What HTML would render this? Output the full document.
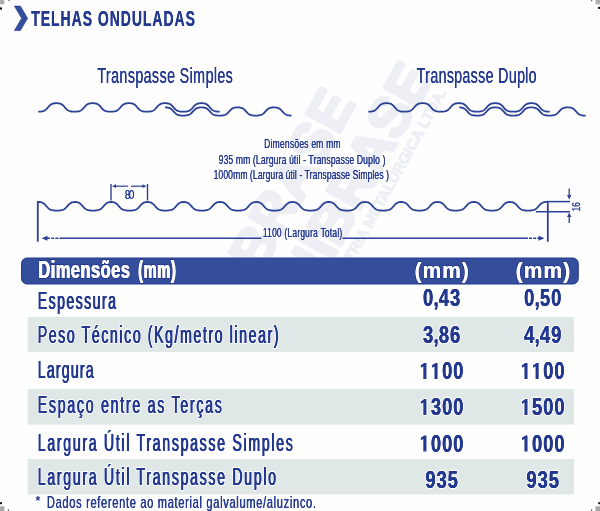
<!DOCTYPE html>
<html><head><meta charset="utf-8"><title>Telhas Onduladas</title>
<style>
html,body{margin:0;padding:0;background:#fff;}
body{width:600px;height:511px;overflow:hidden;}
svg{display:block;font-family:"Liberation Sans",sans-serif;}
</style></head><body>
<svg width="600" height="511" viewBox="0 0 600 511">
<rect width="600" height="511" fill="#fefefe"/>
<g style="will-change:transform">
<clipPath id="wc"><rect x="0" y="0" width="600" height="257"/></clipPath>
<g fill="#edeff5" stroke="#edeff5" stroke-width="3" stroke-linejoin="round" font-weight="bold" clip-path="url(#wc)" text-anchor="end"><text transform="translate(434,77) rotate(-61)" font-size="56">UNIBRASE</text><text transform="translate(356,103) rotate(-61)" font-size="56">UNIBRASE</text><text transform="translate(447,92) rotate(-61)" font-size="15" stroke-width="0.9">INDÚSTRIA METALÚRGICA LTDA.</text></g>
<polygon points="14.4,6.1 20.4,6.1 27.6,18.3 20.4,30.6 14.4,30.6 21.6,18.3" fill="#354e9b" stroke="#1f3388" stroke-width="0.6"/>
<g fill="#23388f"><text transform="translate(31.20,25.6) scale(0.66,1)" font-size="21.2" font-weight="bold" textLength="248.02" lengthAdjust="spacing">TELHAS ONDULADAS</text><text transform="translate(31.30,25.6) scale(0.66,1)" font-size="21.2" font-weight="bold" textLength="248.02" lengthAdjust="spacing">TELHAS ONDULADAS</text></g>
<g fill="#23388f"><text transform="translate(97.30,83.2) scale(0.67,1)" font-size="21.3" font-weight="normal" textLength="202.16" lengthAdjust="spacing">Transpasse Simples</text><text transform="translate(97.55,83.2) scale(0.67,1)" font-size="21.3" font-weight="normal" textLength="202.16" lengthAdjust="spacing">Transpasse Simples</text></g>
<g fill="#23388f"><text transform="translate(416.60,83.2) scale(0.67,1)" font-size="21.3" font-weight="normal" textLength="179.03" lengthAdjust="spacing">Transpasse Duplo</text><text transform="translate(416.85,83.2) scale(0.67,1)" font-size="21.3" font-weight="normal" textLength="179.03" lengthAdjust="spacing">Transpasse Duplo</text></g>
<path d="M38.30,111.70 L38.80,111.70 L39.30,111.68 L39.80,111.66 L40.30,111.62 L40.80,111.58 L41.30,111.52 L41.80,111.44 L42.30,111.34 L42.80,111.22 L43.30,111.07 L43.80,110.89 L44.30,110.66 L44.80,110.38 L45.30,110.05 L45.80,109.66 L46.30,109.22 L46.80,108.71 L47.30,108.16 L47.80,107.58 L48.30,106.99 L48.80,106.41 L49.30,105.87 L49.80,105.37 L50.30,104.94 L50.80,104.56 L51.30,104.25 L51.80,104.00 L52.30,103.79 L52.80,103.63 L53.30,103.50 L53.80,103.40 L54.30,103.33 L54.80,103.27 L55.30,103.23 L55.80,103.21 L56.30,103.20 L56.80,103.20 L57.30,103.22 L57.80,103.25 L58.30,103.30 L58.80,103.37 L59.30,103.46 L59.80,103.57 L60.30,103.72 L60.80,103.91 L61.30,104.14 L61.80,104.43 L62.30,104.78 L62.80,105.19 L63.30,105.66 L63.80,106.19 L64.30,106.76 L64.80,107.34 L65.30,107.93 L65.80,108.50 L66.30,109.02 L66.80,109.49 L67.30,109.91 L67.80,110.26 L68.30,110.56 L68.80,110.80 L69.30,111.00 L69.80,111.17 L70.30,111.30 L70.80,111.41 L71.30,111.49 L71.80,111.56 L72.30,111.61 L72.80,111.65 L73.30,111.67 L73.80,111.69 L74.30,111.70 L74.80,111.70 L75.30,111.69 L75.80,111.67 L76.30,111.64 L76.80,111.60 L77.30,111.55 L77.80,111.48 L78.30,111.40 L78.80,111.29 L79.30,111.15 L79.80,110.98 L80.30,110.78 L80.80,110.53 L81.30,110.23 L81.80,109.87 L82.30,109.45 L82.80,108.97 L83.30,108.44 L83.80,107.87 L84.30,107.28 L84.80,106.70 L85.30,106.13 L85.80,105.61 L86.30,105.15 L86.80,104.74 L87.30,104.40 L87.80,104.12 L88.30,103.89 L88.80,103.70 L89.30,103.56 L89.80,103.45 L90.30,103.36 L90.80,103.30 L91.30,103.25 L91.80,103.22 L92.30,103.20 L92.80,103.20 L93.30,103.21 L93.80,103.24 L94.30,103.27 L94.80,103.33 L95.30,103.41 L95.80,103.51 L96.30,103.64 L96.80,103.81 L97.30,104.02 L97.80,104.28 L98.30,104.60 L98.80,104.98 L99.30,105.42 L99.80,105.92 L100.30,106.47 L100.80,107.05 L101.30,107.64 L101.80,108.22 L102.30,108.76 L102.80,109.26 L103.30,109.71 L103.80,110.09 L104.30,110.41 L104.80,110.68 L105.30,110.91 L105.80,111.09 L106.30,111.24 L106.80,111.35 L107.30,111.45 L107.80,111.52 L108.30,111.58 L108.80,111.63 L109.30,111.66 L109.80,111.68 L110.30,111.70 L110.80,111.70 L111.30,111.70 L111.80,111.68 L112.30,111.66 L112.80,111.62 L113.30,111.58 L113.80,111.52 L114.30,111.44 L114.80,111.34 L115.30,111.22 L115.80,111.07 L116.30,110.89 L116.80,110.66 L117.30,110.38 L117.80,110.05 L118.30,109.66 L118.80,109.22 L119.30,108.71 L119.80,108.16 L120.30,107.58 L120.80,106.99 L121.30,106.41 L121.80,105.87 L122.30,105.37 L122.80,104.94 L123.30,104.56 L123.80,104.25 L124.30,104.00 L124.80,103.79 L125.30,103.63 L125.80,103.50 L126.30,103.40 L126.80,103.33 L127.30,103.27 L127.80,103.23 L128.30,103.21 L128.80,103.20 L129.30,103.20 L129.80,103.22 L130.30,103.25 L130.80,103.30 L131.30,103.37 L131.80,103.46 L132.30,103.57 L132.80,103.72 L133.30,103.91 L133.80,104.14 L134.30,104.43 L134.80,104.78 L135.30,105.19 L135.80,105.66 L136.30,106.19 L136.80,106.76 L137.30,107.34 L137.80,107.93 L138.30,108.50 L138.80,109.02 L139.30,109.49 L139.80,109.91 L140.30,110.26 L140.80,110.56 L141.30,110.80 L141.80,111.00 L142.30,111.17 L142.80,111.30 L143.30,111.41 L143.80,111.49 L144.30,111.56 L144.80,111.61 L145.30,111.65 L145.80,111.67 L146.30,111.69 L146.80,111.70 L147.30,111.70 L147.80,111.69 L148.30,111.67 L148.80,111.64 L149.30,111.60 L149.80,111.55 L150.30,111.48 L150.80,111.40 L151.30,111.29 L151.80,111.15 L152.30,110.98 L152.80,110.78 L153.30,110.53 L153.80,110.23 L154.30,109.87 L154.80,109.45 L155.30,108.97 L155.80,108.44 L156.30,107.87 L156.80,107.28 L157.30,106.70 L157.80,106.13 L158.30,105.61 L158.80,105.15 L159.30,104.74 L159.80,104.40 L160.30,104.12 L160.80,103.89 L161.30,103.70 L161.80,103.56 L162.30,103.45 L162.80,103.36 L163.30,103.30 L163.80,103.25 L164.30,103.22 L164.80,103.20 L165.30,103.20 L165.80,103.21 L166.30,103.24 L166.80,103.27 L167.30,103.33 L167.80,103.41 L168.30,103.51 L168.80,103.64 L169.30,103.81 L169.80,104.02 L170.30,104.28 L170.80,104.60 L171.30,104.98 L171.80,105.42 L172.30,105.92 L172.80,106.47 L173.30,107.05 L173.80,107.64 L174.30,108.22 L174.80,108.76 L175.30,109.26 L175.80,109.71 L176.30,110.09 L176.80,110.41 L177.30,110.68 L177.80,110.91 L178.30,111.09 L178.80,111.24 L179.30,111.35 L179.80,111.45 L180.30,111.52 L180.80,111.58 L181.30,111.63 L181.80,111.66 L182.30,111.68 L182.80,111.70 L183.30,111.70 L183.80,111.70 L184.30,111.68 L184.80,111.66 L185.30,111.62 L185.80,111.58 L186.30,111.52 L186.80,111.44 L187.30,111.34 L187.80,111.22 L188.30,111.07 L188.80,110.89 L189.30,110.66 L189.80,110.38 L190.30,110.05 L190.80,109.66 L191.30,109.22 L191.80,108.71 L192.30,108.16 L192.80,107.58 L193.30,106.99 L193.80,106.41 L194.30,105.87 L194.80,105.37 L195.30,104.94 L195.80,104.56 L196.30,104.25 L196.80,104.00 L197.30,103.79 L197.80,103.63 L198.30,103.50 L198.80,103.40 L199.30,103.33 L199.80,103.27 L200.30,103.23 L200.80,103.21 L201.30,103.20 L201.80,103.20 L202.30,103.22 L202.80,103.25 L203.30,103.30 L203.80,103.37 L204.30,103.46 L204.80,103.57 L205.30,103.72 L205.80,103.91 L206.30,104.14 L206.80,104.43 L207.30,104.78 L207.80,105.19 L208.30,105.66 L208.80,106.19 L209.30,106.76 L209.80,107.34 L210.30,107.93 L210.80,108.50 L211.30,109.02 L211.80,109.49 L212.30,109.91 L212.80,110.26 L213.30,110.56 L213.80,110.80 L214.30,111.00 L214.80,111.17 L215.30,111.30 L215.80,111.41 L216.30,111.49 L216.80,111.56 L217.30,111.61 L217.80,111.65 L218.30,111.67 L218.80,111.69 L219.30,111.70 L219.70,111.70" fill="none" stroke="#2b4195" stroke-width="1.8"/>
<path d="M368.30,111.70 L368.80,111.70 L369.30,111.68 L369.80,111.66 L370.30,111.62 L370.80,111.58 L371.30,111.52 L371.80,111.44 L372.30,111.34 L372.80,111.22 L373.30,111.07 L373.80,110.89 L374.30,110.66 L374.80,110.38 L375.30,110.05 L375.80,109.66 L376.30,109.22 L376.80,108.71 L377.30,108.16 L377.80,107.58 L378.30,106.99 L378.80,106.41 L379.30,105.87 L379.80,105.37 L380.30,104.94 L380.80,104.56 L381.30,104.25 L381.80,104.00 L382.30,103.79 L382.80,103.63 L383.30,103.50 L383.80,103.40 L384.30,103.33 L384.80,103.27 L385.30,103.23 L385.80,103.21 L386.30,103.20 L386.80,103.20 L387.30,103.22 L387.80,103.25 L388.30,103.30 L388.80,103.37 L389.30,103.46 L389.80,103.57 L390.30,103.72 L390.80,103.91 L391.30,104.14 L391.80,104.43 L392.30,104.78 L392.80,105.19 L393.30,105.66 L393.80,106.19 L394.30,106.76 L394.80,107.34 L395.30,107.93 L395.80,108.50 L396.30,109.02 L396.80,109.49 L397.30,109.91 L397.80,110.26 L398.30,110.56 L398.80,110.80 L399.30,111.00 L399.80,111.17 L400.30,111.30 L400.80,111.41 L401.30,111.49 L401.80,111.56 L402.30,111.61 L402.80,111.65 L403.30,111.67 L403.80,111.69 L404.30,111.70 L404.80,111.70 L405.30,111.69 L405.80,111.67 L406.30,111.64 L406.80,111.60 L407.30,111.55 L407.80,111.48 L408.30,111.40 L408.80,111.29 L409.30,111.15 L409.80,110.98 L410.30,110.78 L410.80,110.53 L411.30,110.23 L411.80,109.87 L412.30,109.45 L412.80,108.97 L413.30,108.44 L413.80,107.87 L414.30,107.28 L414.80,106.70 L415.30,106.13 L415.80,105.61 L416.30,105.15 L416.80,104.74 L417.30,104.40 L417.80,104.12 L418.30,103.89 L418.80,103.70 L419.30,103.56 L419.80,103.45 L420.30,103.36 L420.80,103.30 L421.30,103.25 L421.80,103.22 L422.30,103.20 L422.80,103.20 L423.30,103.21 L423.80,103.24 L424.30,103.27 L424.80,103.33 L425.30,103.41 L425.80,103.51 L426.30,103.64 L426.80,103.81 L427.30,104.02 L427.80,104.28 L428.30,104.60 L428.80,104.98 L429.30,105.42 L429.80,105.92 L430.30,106.47 L430.80,107.05 L431.30,107.64 L431.80,108.22 L432.30,108.76 L432.80,109.26 L433.30,109.71 L433.80,110.09 L434.30,110.41 L434.80,110.68 L435.30,110.91 L435.80,111.09 L436.30,111.24 L436.80,111.35 L437.30,111.45 L437.80,111.52 L438.30,111.58 L438.80,111.63 L439.30,111.66 L439.80,111.68 L440.30,111.70 L440.80,111.70 L441.30,111.70 L441.80,111.68 L442.30,111.66 L442.80,111.62 L443.30,111.58 L443.80,111.52 L444.30,111.44 L444.80,111.34 L445.30,111.22 L445.80,111.07 L446.30,110.89 L446.80,110.66 L447.30,110.38 L447.80,110.05 L448.30,109.66 L448.80,109.22 L449.30,108.71 L449.80,108.16 L450.30,107.58 L450.80,106.99 L451.30,106.41 L451.80,105.87 L452.30,105.37 L452.80,104.94 L453.30,104.56 L453.80,104.25 L454.30,104.00 L454.80,103.79 L455.30,103.63 L455.80,103.50 L456.30,103.40 L456.80,103.33 L457.30,103.27 L457.80,103.23 L458.30,103.21 L458.80,103.20 L459.30,103.20 L459.80,103.22 L460.30,103.25 L460.80,103.30 L461.30,103.37 L461.80,103.46 L462.30,103.57 L462.80,103.72 L463.30,103.91 L463.80,104.14 L464.30,104.43 L464.80,104.78 L465.30,105.19 L465.80,105.66 L466.30,106.19 L466.80,106.76 L467.30,107.34 L467.80,107.93 L468.30,108.50 L468.80,109.02 L469.30,109.49 L469.80,109.91 L470.30,110.26 L470.80,110.56 L471.30,110.80 L471.80,111.00 L472.30,111.17 L472.80,111.30 L473.30,111.41 L473.80,111.49 L474.30,111.56 L474.80,111.61 L475.30,111.65 L475.80,111.67 L476.30,111.69 L476.80,111.70 L477.30,111.70 L477.80,111.69 L478.30,111.67 L478.80,111.64 L479.30,111.60 L479.80,111.55 L480.30,111.48 L480.80,111.40 L481.30,111.29 L481.80,111.15 L482.30,110.98 L482.80,110.78 L483.30,110.53 L483.80,110.23 L484.30,109.87 L484.80,109.45 L485.30,108.97 L485.80,108.44 L486.30,107.87 L486.80,107.28 L487.30,106.70 L487.80,106.13 L488.30,105.61 L488.80,105.15 L489.30,104.74 L489.80,104.40 L490.30,104.12 L490.80,103.89 L491.30,103.70 L491.80,103.56 L492.30,103.45 L492.80,103.36 L493.30,103.30 L493.80,103.25 L494.30,103.22 L494.80,103.20 L495.30,103.20 L495.80,103.21 L496.30,103.24 L496.80,103.27 L497.30,103.33 L497.80,103.41 L498.30,103.51 L498.80,103.64 L499.30,103.81 L499.80,104.02 L500.30,104.28 L500.80,104.60 L501.30,104.98 L501.80,105.42 L502.30,105.92 L502.80,106.47 L503.30,107.05 L503.80,107.64 L504.30,108.22 L504.80,108.76 L505.30,109.26 L505.80,109.71 L506.30,110.09 L506.80,110.41 L507.30,110.68 L507.80,110.91 L508.30,111.09 L508.80,111.24 L509.30,111.35 L509.80,111.45 L510.30,111.52 L510.80,111.58 L511.30,111.63 L511.80,111.66 L512.30,111.68 L512.80,111.70 L513.30,111.70 L513.80,111.70 L514.30,111.68 L514.80,111.66 L515.30,111.62 L515.80,111.58 L516.30,111.52 L516.80,111.44 L517.30,111.34 L517.80,111.22 L518.30,111.07 L518.80,110.89 L519.30,110.66 L519.80,110.38 L520.30,110.05 L520.80,109.66 L521.30,109.22 L521.80,108.71 L522.30,108.16 L522.80,107.58 L523.30,106.99 L523.80,106.41 L524.30,105.87 L524.80,105.37 L525.30,104.94 L525.80,104.56 L526.30,104.25 L526.80,104.00 L527.30,103.79 L527.80,103.63 L528.30,103.50 L528.80,103.40 L529.30,103.33 L529.80,103.27 L530.30,103.23 L530.80,103.21 L531.30,103.20 L531.80,103.20 L532.30,103.22 L532.80,103.25 L533.30,103.30 L533.80,103.37 L534.30,103.46 L534.80,103.57 L535.30,103.72 L535.80,103.91 L536.30,104.14 L536.80,104.43 L537.30,104.78 L537.80,105.19 L538.30,105.66 L538.80,106.19 L539.30,106.76 L539.80,107.34 L540.30,107.93 L540.80,108.50 L541.30,109.02 L541.80,109.49 L542.30,109.91 L542.80,110.26 L543.30,110.56 L543.80,110.80 L544.30,111.00 L544.80,111.17 L545.30,111.30 L545.80,111.41 L546.30,111.49 L546.80,111.56 L547.30,111.61 L547.80,111.65 L548.30,111.67 L548.80,111.69 L549.30,111.70 L549.70,111.70" fill="none" stroke="#2b4195" stroke-width="1.8"/>
<path d="M165.00,107.40 L165.50,107.40 L166.00,107.42 L166.50,107.45 L167.00,107.49 L167.50,107.55 L168.00,107.64 L168.50,107.75 L169.00,107.89 L169.50,108.06 L170.00,108.29 L170.50,108.56 L171.00,108.89 L171.50,109.28 L172.00,109.73 L172.50,110.23 L173.00,110.77 L173.50,111.34 L174.00,111.91 L174.50,112.46 L175.00,112.97 L175.50,113.43 L176.00,113.83 L176.50,114.18 L177.00,114.47 L177.50,114.71 L178.00,114.91 L178.50,115.07 L179.00,115.20 L179.50,115.31 L180.00,115.39 L180.50,115.46 L181.00,115.51 L181.50,115.54 L182.00,115.57 L182.50,115.59 L183.00,115.60 L183.50,115.60 L184.00,115.59 L184.50,115.57 L185.00,115.55 L185.50,115.51 L186.00,115.46 L186.50,115.40 L187.00,115.32 L187.50,115.21 L188.00,115.09 L188.50,114.93 L189.00,114.73 L189.50,114.50 L190.00,114.21 L190.50,113.87 L191.00,113.47 L191.50,113.01 L192.00,112.51 L192.50,111.96 L193.00,111.40 L193.50,110.83 L194.00,110.28 L194.50,109.77 L195.00,109.32 L195.50,108.92 L196.00,108.59 L196.50,108.31 L197.00,108.08 L197.50,107.90 L198.00,107.76 L198.50,107.65 L199.00,107.56 L199.50,107.50 L200.00,107.45 L200.50,107.42 L201.00,107.40 L201.50,107.40 L202.00,107.41 L202.50,107.43 L203.00,107.47 L203.50,107.52 L204.00,107.59 L204.50,107.69 L205.00,107.81 L205.50,107.97 L206.00,108.17 L206.50,108.41 L207.00,108.71 L207.50,109.07 L208.00,109.49 L208.50,109.97 L209.00,110.50 L209.50,111.06 L210.00,111.62 L210.50,112.19 L211.00,112.72 L211.50,113.20 L212.00,113.64 L212.50,114.01 L213.00,114.33 L213.50,114.60 L214.00,114.82 L214.50,114.99 L215.00,115.14 L215.50,115.26 L216.00,115.35 L216.50,115.42 L217.00,115.48 L217.50,115.53 L218.00,115.56 L218.50,115.58 L219.00,115.60 L219.50,115.60 L220.00,115.60 L220.50,115.58 L221.00,115.56 L221.50,115.53 L222.00,115.49 L222.50,115.43 L223.00,115.36 L223.50,115.27 L224.00,115.15 L224.50,115.01 L225.00,114.84 L225.50,114.62 L226.00,114.36 L226.50,114.05 L227.00,113.68 L227.50,113.25 L228.00,112.77 L228.50,112.24 L229.00,111.68 L229.50,111.11 L230.00,110.55 L230.50,110.02 L231.00,109.54 L231.50,109.11 L232.00,108.75 L232.50,108.44 L233.00,108.19 L233.50,107.99 L234.00,107.83 L234.50,107.70 L235.00,107.60 L235.50,107.53 L236.00,107.47 L236.50,107.43 L237.00,107.41 L237.50,107.40 L238.00,107.40 L238.50,107.42 L239.00,107.45 L239.50,107.49 L240.00,107.55 L240.50,107.64 L241.00,107.75 L241.50,107.89 L242.00,108.06 L242.50,108.29 L243.00,108.56 L243.50,108.89 L244.00,109.28 L244.50,109.73 L245.00,110.23 L245.50,110.77 L246.00,111.34 L246.50,111.91 L247.00,112.46 L247.50,112.97 L248.00,113.43 L248.50,113.83 L249.00,114.18 L249.50,114.47 L250.00,114.71 L250.50,114.91 L251.00,115.07 L251.50,115.20 L252.00,115.31 L252.50,115.39 L253.00,115.46 L253.50,115.51 L254.00,115.54 L254.50,115.57 L255.00,115.59 L255.50,115.60 L256.00,115.60 L256.50,115.59 L257.00,115.57 L257.50,115.55 L258.00,115.51 L258.50,115.46 L259.00,115.40 L259.50,115.32 L260.00,115.21 L260.50,115.09 L261.00,114.93 L261.50,114.73 L262.00,114.50 L262.50,114.21 L263.00,113.87 L263.50,113.47 L264.00,113.01 L264.50,112.51 L265.00,111.96 L265.50,111.40 L266.00,110.83 L266.50,110.28 L267.00,109.77 L267.50,109.32 L268.00,108.92 L268.50,108.59 L269.00,108.31 L269.50,108.08 L270.00,107.90 L270.50,107.76 L271.00,107.65 L271.50,107.56 L272.00,107.50 L272.50,107.45 L273.00,107.42 L273.50,107.40 L274.00,107.40 L274.50,107.41 L275.00,107.43 L275.50,107.47 L276.00,107.52 L276.50,107.59 L277.00,107.69 L277.50,107.81 L278.00,107.97 L278.50,108.17 L279.00,108.41 L279.50,108.71 L280.00,109.07 L280.50,109.49 L281.00,109.97 L281.50,110.50 L282.00,111.06 L282.50,111.62 L283.00,112.19 L283.50,112.72 L284.00,113.20 L284.50,113.64 L285.00,114.01 L285.50,114.33 L286.00,114.60 L286.50,114.82 L287.00,114.99 L287.50,115.14 L288.00,115.26 L288.50,115.35 L289.00,115.42 L289.50,115.48 L290.00,115.53 L290.50,115.56 L291.00,115.58 L291.50,115.60" fill="none" stroke="#2b4195" stroke-width="1.8"/>
<path d="M459.30,107.40 L459.80,107.42 L460.30,107.45 L460.80,107.50 L461.30,107.56 L461.80,107.65 L462.30,107.76 L462.80,107.90 L463.30,108.08 L463.80,108.31 L464.30,108.59 L464.80,108.92 L465.30,109.32 L465.80,109.77 L466.30,110.28 L466.80,110.83 L467.30,111.40 L467.80,111.96 L468.30,112.51 L468.80,113.01 L469.30,113.47 L469.80,113.87 L470.30,114.21 L470.80,114.50 L471.30,114.73 L471.80,114.93 L472.30,115.09 L472.80,115.21 L473.30,115.32 L473.80,115.40 L474.30,115.46 L474.80,115.51 L475.30,115.55 L475.80,115.57 L476.30,115.59 L476.80,115.60 L477.30,115.60 L477.80,115.59 L478.30,115.57 L478.80,115.54 L479.30,115.51 L479.80,115.46 L480.30,115.39 L480.80,115.31 L481.30,115.20 L481.80,115.07 L482.30,114.91 L482.80,114.71 L483.30,114.47 L483.80,114.18 L484.30,113.83 L484.80,113.43 L485.30,112.97 L485.80,112.46 L486.30,111.91 L486.80,111.34 L487.30,110.77 L487.80,110.23 L488.30,109.73 L488.80,109.28 L489.30,108.89 L489.80,108.56 L490.30,108.29 L490.80,108.06 L491.30,107.89 L491.80,107.75 L492.30,107.64 L492.80,107.55 L493.30,107.49 L493.80,107.45 L494.30,107.42 L494.80,107.40 L495.30,107.40 L495.80,107.41 L496.30,107.43 L496.80,107.47 L497.30,107.53 L497.80,107.60 L498.30,107.70 L498.80,107.83 L499.30,107.99 L499.80,108.19 L500.30,108.44 L500.80,108.75 L501.30,109.11 L501.80,109.54 L502.30,110.02 L502.80,110.55 L503.30,111.11 L503.80,111.68 L504.30,112.24 L504.80,112.77 L505.30,113.25 L505.80,113.68 L506.30,114.05 L506.80,114.36 L507.30,114.62 L507.80,114.84 L508.30,115.01 L508.80,115.15 L509.30,115.27 L509.80,115.36 L510.30,115.43 L510.80,115.49 L511.30,115.53 L511.80,115.56 L512.30,115.58 L512.80,115.60 L513.30,115.60 L513.80,115.60 L514.30,115.58 L514.80,115.56 L515.30,115.53 L515.80,115.48 L516.30,115.42 L516.80,115.35 L517.30,115.26 L517.80,115.14 L518.30,114.99 L518.80,114.82 L519.30,114.60 L519.80,114.33 L520.30,114.01 L520.80,113.64 L521.30,113.20 L521.80,112.72 L522.30,112.19 L522.80,111.62 L523.30,111.06 L523.80,110.50 L524.30,109.97 L524.80,109.49 L525.30,109.07 L525.80,108.71 L526.30,108.41 L526.80,108.17 L527.30,107.97 L527.80,107.81 L528.30,107.69 L528.80,107.59 L529.30,107.52 L529.80,107.47 L530.30,107.43 L530.80,107.41 L531.30,107.40 L531.80,107.40 L532.30,107.42 L532.80,107.45 L533.30,107.50 L533.80,107.56 L534.30,107.65 L534.80,107.76 L535.30,107.90 L535.80,108.08 L536.30,108.31 L536.80,108.59 L537.30,108.92 L537.80,109.32 L538.30,109.77 L538.80,110.28 L539.30,110.83 L539.80,111.40 L540.30,111.96 L540.80,112.51 L541.30,113.01 L541.80,113.47 L542.30,113.87 L542.80,114.21 L543.30,114.50 L543.80,114.73 L544.30,114.93 L544.80,115.09 L545.30,115.21 L545.80,115.32 L546.30,115.40 L546.80,115.46 L547.30,115.51 L547.80,115.55 L548.30,115.57 L548.80,115.59 L549.30,115.60 L549.80,115.60 L550.30,115.59 L550.80,115.57 L551.30,115.54 L551.80,115.51 L552.30,115.46 L552.80,115.39 L553.30,115.31 L553.80,115.20 L554.30,115.07 L554.80,114.91 L555.30,114.71 L555.80,114.47 L556.30,114.18 L556.80,113.83 L557.30,113.43 L557.80,112.97 L558.30,112.46 L558.80,111.91 L559.30,111.34 L559.80,110.77 L560.30,110.23 L560.80,109.73 L561.30,109.28 L561.80,108.89 L562.30,108.56 L562.80,108.29 L563.30,108.06 L563.80,107.89 L564.30,107.75 L564.80,107.64 L565.30,107.55 L565.80,107.49 L566.30,107.45 L566.80,107.42 L567.30,107.40 L567.80,107.40 L568.30,107.41 L568.80,107.43 L569.30,107.47 L569.80,107.53 L570.30,107.60 L570.80,107.70 L571.30,107.83 L571.80,107.99 L572.30,108.19 L572.80,108.44 L573.30,108.75 L573.80,109.11 L574.30,109.54 L574.80,110.02 L575.30,110.55 L575.80,111.11 L576.30,111.68 L576.80,112.24 L577.30,112.77 L577.80,113.25 L578.30,113.68 L578.80,114.05 L579.30,114.36 L579.80,114.62 L580.30,114.84 L580.80,115.01 L581.30,115.15 L581.80,115.27 L582.30,115.36 L582.80,115.43 L583.30,115.49 L583.80,115.53 L584.30,115.56 L584.80,115.58 L585.30,115.60 L585.70,115.60" fill="none" stroke="#2b4195" stroke-width="1.8"/>
<g fill="#23388f"><text transform="translate(264.10,147.9) scale(0.69,1)" font-size="12.4" font-weight="normal" textLength="110.65" lengthAdjust="spacing">Dimensões em mm</text><text transform="translate(264.35,147.9) scale(0.69,1)" font-size="12.4" font-weight="normal" textLength="110.65" lengthAdjust="spacing">Dimensões em mm</text></g>
<g fill="#23388f"><text transform="translate(218.50,163.6) scale(0.69,1)" font-size="12.4" font-weight="normal" textLength="241.66" lengthAdjust="spacing">935 mm (Largura útil - Transpasse Duplo )</text><text transform="translate(218.75,163.6) scale(0.69,1)" font-size="12.4" font-weight="normal" textLength="241.66" lengthAdjust="spacing">935 mm (Largura útil - Transpasse Duplo )</text></g>
<g fill="#23388f"><text transform="translate(213.50,179.3) scale(0.69,1)" font-size="12.4" font-weight="normal" textLength="254.27" lengthAdjust="spacing">1000mm (Largura útil - Transpasse Simples )</text><text transform="translate(213.75,179.3) scale(0.69,1)" font-size="12.4" font-weight="normal" textLength="254.27" lengthAdjust="spacing">1000mm (Largura útil - Transpasse Simples )</text></g>
<path d="M37.50,202.07 L38.00,202.02 L38.50,202.00 L39.00,202.00 L39.50,202.02 L40.00,202.07 L40.50,202.14 L41.00,202.23 L41.50,202.36 L42.00,202.53 L42.50,202.74 L43.00,203.00 L43.50,203.31 L44.00,203.69 L44.50,204.13 L45.00,204.62 L45.50,205.16 L46.00,205.73 L46.50,206.31 L47.00,206.88 L47.50,207.43 L48.00,207.93 L48.50,208.38 L49.00,208.77 L49.50,209.11 L50.00,209.39 L50.50,209.63 L51.00,209.83 L51.50,210.00 L52.00,210.13 L52.50,210.24 L53.00,210.33 L53.50,210.41 L54.00,210.47 L54.50,210.51 L55.00,210.55 L55.50,210.57 L56.00,210.59 L56.50,210.60 L57.00,210.60 L57.50,210.59 L58.00,210.58 L58.50,210.56 L59.00,210.53 L59.50,210.49 L60.00,210.44 L60.50,210.37 L61.00,210.29 L61.50,210.19 L62.00,210.07 L62.50,209.92 L63.00,209.74 L63.50,209.52 L64.00,209.26 L64.50,208.94 L65.00,208.58 L65.50,208.16 L66.00,207.68 L66.50,207.16 L67.00,206.60 L67.50,206.02 L68.00,205.45 L68.50,204.89 L69.00,204.37 L69.50,203.90 L70.00,203.49 L70.50,203.15 L71.00,202.86 L71.50,202.62 L72.00,202.44 L72.50,202.29 L73.00,202.18 L73.50,202.10 L74.00,202.04 L74.50,202.01 L75.00,202.00 L75.50,202.01 L76.00,202.04 L76.50,202.10 L77.00,202.18 L77.50,202.29 L78.00,202.44 L78.50,202.62 L79.00,202.86 L79.50,203.15 L80.00,203.49 L80.50,203.90 L81.00,204.37 L81.50,204.89 L82.00,205.45 L82.50,206.02 L83.00,206.60 L83.50,207.16 L84.00,207.68 L84.50,208.16 L85.00,208.58 L85.50,208.94 L86.00,209.26 L86.50,209.52 L87.00,209.74 L87.50,209.92 L88.00,210.07 L88.50,210.19 L89.00,210.29 L89.50,210.37 L90.00,210.44 L90.50,210.49 L91.00,210.53 L91.50,210.56 L92.00,210.58 L92.50,210.59 L93.00,210.60 L93.50,210.60 L94.00,210.59 L94.50,210.57 L95.00,210.55 L95.50,210.51 L96.00,210.47 L96.50,210.41 L97.00,210.33 L97.50,210.24 L98.00,210.13 L98.50,210.00 L99.00,209.83 L99.50,209.63 L100.00,209.39 L100.50,209.11 L101.00,208.77 L101.50,208.38 L102.00,207.93 L102.50,207.43 L103.00,206.88 L103.50,206.31 L104.00,205.73 L104.50,205.16 L105.00,204.62 L105.50,204.13 L106.00,203.69 L106.50,203.31 L107.00,203.00 L107.50,202.74 L108.00,202.53 L108.50,202.36 L109.00,202.23 L109.50,202.14 L110.00,202.07 L110.50,202.02 L111.00,202.00 L111.50,202.00 L112.00,202.02 L112.50,202.07 L113.00,202.14 L113.50,202.23 L114.00,202.36 L114.50,202.53 L115.00,202.74 L115.50,203.00 L116.00,203.31 L116.50,203.69 L117.00,204.13 L117.50,204.62 L118.00,205.16 L118.50,205.73 L119.00,206.31 L119.50,206.88 L120.00,207.43 L120.50,207.93 L121.00,208.38 L121.50,208.77 L122.00,209.11 L122.50,209.39 L123.00,209.63 L123.50,209.83 L124.00,210.00 L124.50,210.13 L125.00,210.24 L125.50,210.33 L126.00,210.41 L126.50,210.47 L127.00,210.51 L127.50,210.55 L128.00,210.57 L128.50,210.59 L129.00,210.60 L129.50,210.60 L130.00,210.59 L130.50,210.58 L131.00,210.56 L131.50,210.53 L132.00,210.49 L132.50,210.44 L133.00,210.37 L133.50,210.29 L134.00,210.19 L134.50,210.07 L135.00,209.92 L135.50,209.74 L136.00,209.52 L136.50,209.26 L137.00,208.94 L137.50,208.58 L138.00,208.16 L138.50,207.68 L139.00,207.16 L139.50,206.60 L140.00,206.02 L140.50,205.45 L141.00,204.89 L141.50,204.37 L142.00,203.90 L142.50,203.49 L143.00,203.15 L143.50,202.86 L144.00,202.62 L144.50,202.44 L145.00,202.29 L145.50,202.18 L146.00,202.10 L146.50,202.04 L147.00,202.01 L147.50,202.00 L148.00,202.01 L148.50,202.04 L149.00,202.10 L149.50,202.18 L150.00,202.29 L150.50,202.44 L151.00,202.62 L151.50,202.86 L152.00,203.15 L152.50,203.49 L153.00,203.90 L153.50,204.37 L154.00,204.89 L154.50,205.45 L155.00,206.02 L155.50,206.60 L156.00,207.16 L156.50,207.68 L157.00,208.16 L157.50,208.58 L158.00,208.94 L158.50,209.26 L159.00,209.52 L159.50,209.74 L160.00,209.92 L160.50,210.07 L161.00,210.19 L161.50,210.29 L162.00,210.37 L162.50,210.44 L163.00,210.49 L163.50,210.53 L164.00,210.56 L164.50,210.58 L165.00,210.59 L165.50,210.60 L166.00,210.60 L166.50,210.59 L167.00,210.57 L167.50,210.55 L168.00,210.51 L168.50,210.47 L169.00,210.41 L169.50,210.33 L170.00,210.24 L170.50,210.13 L171.00,210.00 L171.50,209.83 L172.00,209.63 L172.50,209.39 L173.00,209.11 L173.50,208.77 L174.00,208.38 L174.50,207.93 L175.00,207.43 L175.50,206.88 L176.00,206.31 L176.50,205.73 L177.00,205.16 L177.50,204.62 L178.00,204.13 L178.50,203.69 L179.00,203.31 L179.50,203.00 L180.00,202.74 L180.50,202.53 L181.00,202.36 L181.50,202.23 L182.00,202.14 L182.50,202.07 L183.00,202.02 L183.50,202.00 L184.00,202.00 L184.50,202.02 L185.00,202.07 L185.50,202.14 L186.00,202.23 L186.50,202.36 L187.00,202.53 L187.50,202.74 L188.00,203.00 L188.50,203.31 L189.00,203.69 L189.50,204.13 L190.00,204.62 L190.50,205.16 L191.00,205.73 L191.50,206.31 L192.00,206.88 L192.50,207.43 L193.00,207.93 L193.50,208.38 L194.00,208.77 L194.50,209.11 L195.00,209.39 L195.50,209.63 L196.00,209.83 L196.50,210.00 L197.00,210.13 L197.50,210.24 L198.00,210.33 L198.50,210.41 L199.00,210.47 L199.50,210.51 L200.00,210.55 L200.50,210.57 L201.00,210.59 L201.50,210.60 L202.00,210.60 L202.50,210.59 L203.00,210.58 L203.50,210.56 L204.00,210.53 L204.50,210.49 L205.00,210.44 L205.50,210.37 L206.00,210.29 L206.50,210.19 L207.00,210.07 L207.50,209.92 L208.00,209.74 L208.50,209.52 L209.00,209.26 L209.50,208.94 L210.00,208.58 L210.50,208.16 L211.00,207.68 L211.50,207.16 L212.00,206.60 L212.50,206.02 L213.00,205.45 L213.50,204.89 L214.00,204.37 L214.50,203.90 L215.00,203.49 L215.50,203.15 L216.00,202.86 L216.50,202.62 L217.00,202.44 L217.50,202.29 L218.00,202.18 L218.50,202.10 L219.00,202.04 L219.50,202.01 L220.00,202.00 L220.50,202.01 L221.00,202.04 L221.50,202.10 L222.00,202.18 L222.50,202.29 L223.00,202.44 L223.50,202.62 L224.00,202.86 L224.50,203.15 L225.00,203.49 L225.50,203.90 L226.00,204.37 L226.50,204.89 L227.00,205.45 L227.50,206.02 L228.00,206.60 L228.50,207.16 L229.00,207.68 L229.50,208.16 L230.00,208.58 L230.50,208.94 L231.00,209.26 L231.50,209.52 L232.00,209.74 L232.50,209.92 L233.00,210.07 L233.50,210.19 L234.00,210.29 L234.50,210.37 L235.00,210.44 L235.50,210.49 L236.00,210.53 L236.50,210.56 L237.00,210.58 L237.50,210.59 L238.00,210.60 L238.50,210.60 L239.00,210.59 L239.50,210.57 L240.00,210.55 L240.50,210.51 L241.00,210.47 L241.50,210.41 L242.00,210.33 L242.50,210.24 L243.00,210.13 L243.50,210.00 L244.00,209.83 L244.50,209.63 L245.00,209.39 L245.50,209.11 L246.00,208.77 L246.50,208.38 L247.00,207.93 L247.50,207.43 L248.00,206.88 L248.50,206.31 L249.00,205.73 L249.50,205.16 L250.00,204.62 L250.50,204.13 L251.00,203.69 L251.50,203.31 L252.00,203.00 L252.50,202.74 L253.00,202.53 L253.50,202.36 L254.00,202.23 L254.50,202.14 L255.00,202.07 L255.50,202.02 L256.00,202.00 L256.50,202.00 L257.00,202.02 L257.50,202.07 L258.00,202.14 L258.50,202.23 L259.00,202.36 L259.50,202.53 L260.00,202.74 L260.50,203.00 L261.00,203.31 L261.50,203.69 L262.00,204.13 L262.50,204.62 L263.00,205.16 L263.50,205.73 L264.00,206.31 L264.50,206.88 L265.00,207.43 L265.50,207.93 L266.00,208.38 L266.50,208.77 L267.00,209.11 L267.50,209.39 L268.00,209.63 L268.50,209.83 L269.00,210.00 L269.50,210.13 L270.00,210.24 L270.50,210.33 L271.00,210.41 L271.50,210.47 L272.00,210.51 L272.50,210.55 L273.00,210.57 L273.50,210.59 L274.00,210.60 L274.50,210.60 L275.00,210.59 L275.50,210.58 L276.00,210.56 L276.50,210.53 L277.00,210.49 L277.50,210.44 L278.00,210.37 L278.50,210.29 L279.00,210.19 L279.50,210.07 L280.00,209.92 L280.50,209.74 L281.00,209.52 L281.50,209.26 L282.00,208.94 L282.50,208.58 L283.00,208.16 L283.50,207.68 L284.00,207.16 L284.50,206.60 L285.00,206.02 L285.50,205.45 L286.00,204.89 L286.50,204.37 L287.00,203.90 L287.50,203.49 L288.00,203.15 L288.50,202.86 L289.00,202.62 L289.50,202.44 L290.00,202.29 L290.50,202.18 L291.00,202.10 L291.50,202.04 L292.00,202.01 L292.50,202.00 L293.00,202.01 L293.50,202.04 L294.00,202.10 L294.50,202.18 L295.00,202.29 L295.50,202.44 L296.00,202.62 L296.50,202.86 L297.00,203.15 L297.50,203.49 L298.00,203.90 L298.50,204.37 L299.00,204.89 L299.50,205.45 L300.00,206.02 L300.50,206.60 L301.00,207.16 L301.50,207.68 L302.00,208.16 L302.50,208.58 L303.00,208.94 L303.50,209.26 L304.00,209.52 L304.50,209.74 L305.00,209.92 L305.50,210.07 L306.00,210.19 L306.50,210.29 L307.00,210.37 L307.50,210.44 L308.00,210.49 L308.50,210.53 L309.00,210.56 L309.50,210.58 L310.00,210.59 L310.50,210.60 L311.00,210.60 L311.50,210.59 L312.00,210.57 L312.50,210.55 L313.00,210.51 L313.50,210.47 L314.00,210.41 L314.50,210.33 L315.00,210.24 L315.50,210.13 L316.00,210.00 L316.50,209.83 L317.00,209.63 L317.50,209.39 L318.00,209.11 L318.50,208.77 L319.00,208.38 L319.50,207.93 L320.00,207.43 L320.50,206.88 L321.00,206.31 L321.50,205.73 L322.00,205.16 L322.50,204.62 L323.00,204.13 L323.50,203.69 L324.00,203.31 L324.50,203.00 L325.00,202.74 L325.50,202.53 L326.00,202.36 L326.50,202.23 L327.00,202.14 L327.50,202.07 L328.00,202.02 L328.50,202.00 L329.00,202.00 L329.50,202.02 L330.00,202.07 L330.50,202.14 L331.00,202.23 L331.50,202.36 L332.00,202.53 L332.50,202.74 L333.00,203.00 L333.50,203.31 L334.00,203.69 L334.50,204.13 L335.00,204.62 L335.50,205.16 L336.00,205.73 L336.50,206.31 L337.00,206.88 L337.50,207.43 L338.00,207.93 L338.50,208.38 L339.00,208.77 L339.50,209.11 L340.00,209.39 L340.50,209.63 L341.00,209.83 L341.50,210.00 L342.00,210.13 L342.50,210.24 L343.00,210.33 L343.50,210.41 L344.00,210.47 L344.50,210.51 L345.00,210.55 L345.50,210.57 L346.00,210.59 L346.50,210.60 L347.00,210.60 L347.50,210.59 L348.00,210.58 L348.50,210.56 L349.00,210.53 L349.50,210.49 L350.00,210.44 L350.50,210.37 L351.00,210.29 L351.50,210.19 L352.00,210.07 L352.50,209.92 L353.00,209.74 L353.50,209.52 L354.00,209.26 L354.50,208.94 L355.00,208.58 L355.50,208.16 L356.00,207.68 L356.50,207.16 L357.00,206.60 L357.50,206.02 L358.00,205.45 L358.50,204.89 L359.00,204.37 L359.50,203.90 L360.00,203.49 L360.50,203.15 L361.00,202.86 L361.50,202.62 L362.00,202.44 L362.50,202.29 L363.00,202.18 L363.50,202.10 L364.00,202.04 L364.50,202.01 L365.00,202.00 L365.50,202.01 L366.00,202.04 L366.50,202.10 L367.00,202.18 L367.50,202.29 L368.00,202.44 L368.50,202.62 L369.00,202.86 L369.50,203.15 L370.00,203.49 L370.50,203.90 L371.00,204.37 L371.50,204.89 L372.00,205.45 L372.50,206.02 L373.00,206.60 L373.50,207.16 L374.00,207.68 L374.50,208.16 L375.00,208.58 L375.50,208.94 L376.00,209.26 L376.50,209.52 L377.00,209.74 L377.50,209.92 L378.00,210.07 L378.50,210.19 L379.00,210.29 L379.50,210.37 L380.00,210.44 L380.50,210.49 L381.00,210.53 L381.50,210.56 L382.00,210.58 L382.50,210.59 L383.00,210.60 L383.50,210.60 L384.00,210.59 L384.50,210.57 L385.00,210.55 L385.50,210.51 L386.00,210.47 L386.50,210.41 L387.00,210.33 L387.50,210.24 L388.00,210.13 L388.50,210.00 L389.00,209.83 L389.50,209.63 L390.00,209.39 L390.50,209.11 L391.00,208.77 L391.50,208.38 L392.00,207.93 L392.50,207.43 L393.00,206.88 L393.50,206.31 L394.00,205.73 L394.50,205.16 L395.00,204.62 L395.50,204.13 L396.00,203.69 L396.50,203.31 L397.00,203.00 L397.50,202.74 L398.00,202.53 L398.50,202.36 L399.00,202.23 L399.50,202.14 L400.00,202.07 L400.50,202.02 L401.00,202.00 L401.50,202.00 L402.00,202.02 L402.50,202.07 L403.00,202.14 L403.50,202.23 L404.00,202.36 L404.50,202.53 L405.00,202.74 L405.50,203.00 L406.00,203.31 L406.50,203.69 L407.00,204.13 L407.50,204.62 L408.00,205.16 L408.50,205.73 L409.00,206.31 L409.50,206.88 L410.00,207.43 L410.50,207.93 L411.00,208.38 L411.50,208.77 L412.00,209.11 L412.50,209.39 L413.00,209.63 L413.50,209.83 L414.00,210.00 L414.50,210.13 L415.00,210.24 L415.50,210.33 L416.00,210.41 L416.50,210.47 L417.00,210.51 L417.50,210.55 L418.00,210.57 L418.50,210.59 L419.00,210.60 L419.50,210.60 L420.00,210.59 L420.50,210.58 L421.00,210.56 L421.50,210.53 L422.00,210.49 L422.50,210.44 L423.00,210.37 L423.50,210.29 L424.00,210.19 L424.50,210.07 L425.00,209.92 L425.50,209.74 L426.00,209.52 L426.50,209.26 L427.00,208.94 L427.50,208.58 L428.00,208.16 L428.50,207.68 L429.00,207.16 L429.50,206.60 L430.00,206.02 L430.50,205.45 L431.00,204.89 L431.50,204.37 L432.00,203.90 L432.50,203.49 L433.00,203.15 L433.50,202.86 L434.00,202.62 L434.50,202.44 L435.00,202.29 L435.50,202.18 L436.00,202.10 L436.50,202.04 L437.00,202.01 L437.50,202.00 L438.00,202.01 L438.50,202.04 L439.00,202.10 L439.50,202.18 L440.00,202.29 L440.50,202.44 L441.00,202.62 L441.50,202.86 L442.00,203.15 L442.50,203.49 L443.00,203.90 L443.50,204.37 L444.00,204.89 L444.50,205.45 L445.00,206.02 L445.50,206.60 L446.00,207.16 L446.50,207.68 L447.00,208.16 L447.50,208.58 L448.00,208.94 L448.50,209.26 L449.00,209.52 L449.50,209.74 L450.00,209.92 L450.50,210.07 L451.00,210.19 L451.50,210.29 L452.00,210.37 L452.50,210.44 L453.00,210.49 L453.50,210.53 L454.00,210.56 L454.50,210.58 L455.00,210.59 L455.50,210.60 L456.00,210.60 L456.50,210.59 L457.00,210.57 L457.50,210.55 L458.00,210.51 L458.50,210.47 L459.00,210.41 L459.50,210.33 L460.00,210.24 L460.50,210.13 L461.00,210.00 L461.50,209.83 L462.00,209.63 L462.50,209.39 L463.00,209.11 L463.50,208.77 L464.00,208.38 L464.50,207.93 L465.00,207.43 L465.50,206.88 L466.00,206.31 L466.50,205.73 L467.00,205.16 L467.50,204.62 L468.00,204.13 L468.50,203.69 L469.00,203.31 L469.50,203.00 L470.00,202.74 L470.50,202.53 L471.00,202.36 L471.50,202.23 L472.00,202.14 L472.50,202.07 L473.00,202.02 L473.50,202.00 L474.00,202.00 L474.50,202.02 L475.00,202.07 L475.50,202.14 L476.00,202.23 L476.50,202.36 L477.00,202.53 L477.50,202.74 L478.00,203.00 L478.50,203.31 L479.00,203.69 L479.50,204.13 L480.00,204.62 L480.50,205.16 L481.00,205.73 L481.50,206.31 L482.00,206.88 L482.50,207.43 L483.00,207.93 L483.50,208.38 L484.00,208.77 L484.50,209.11 L485.00,209.39 L485.50,209.63 L486.00,209.83 L486.50,210.00 L487.00,210.13 L487.50,210.24 L488.00,210.33 L488.50,210.41 L489.00,210.47 L489.50,210.51 L490.00,210.55 L490.50,210.57 L491.00,210.59 L491.50,210.60 L492.00,210.60 L492.50,210.59 L493.00,210.58 L493.50,210.56 L494.00,210.53 L494.50,210.49 L495.00,210.44 L495.50,210.37 L496.00,210.29 L496.50,210.19 L497.00,210.07 L497.50,209.92 L498.00,209.74 L498.50,209.52 L499.00,209.26 L499.50,208.94 L500.00,208.58 L500.50,208.16 L501.00,207.68 L501.50,207.16 L502.00,206.60 L502.50,206.02 L503.00,205.45 L503.50,204.89 L504.00,204.37 L504.50,203.90 L505.00,203.49 L505.50,203.15 L506.00,202.86 L506.50,202.62 L507.00,202.44 L507.50,202.29 L508.00,202.18 L508.50,202.10 L509.00,202.04 L509.50,202.01 L510.00,202.00 L510.50,202.01 L511.00,202.04 L511.50,202.10 L512.00,202.18 L512.50,202.29 L513.00,202.44 L513.50,202.62 L514.00,202.86 L514.50,203.15 L515.00,203.49 L515.50,203.90 L516.00,204.37 L516.50,204.89 L517.00,205.45 L517.50,206.02 L518.00,206.60 L518.50,207.16 L519.00,207.68 L519.50,208.16 L520.00,208.58 L520.50,208.94 L521.00,209.26 L521.50,209.52 L522.00,209.74 L522.50,209.92 L523.00,210.07 L523.50,210.19 L524.00,210.29 L524.50,210.37 L525.00,210.44 L525.50,210.49 L526.00,210.53 L526.50,210.56 L527.00,210.58 L527.50,210.59 L528.00,210.60 L528.50,210.60 L529.00,210.59 L529.50,210.57 L530.00,210.55 L530.50,210.51 L531.00,210.47 L531.50,210.41 L532.00,210.33 L532.50,210.24 L533.00,210.13 L533.50,210.00 L534.00,209.83 L534.50,209.63 L535.00,209.39 L535.50,209.11 L536.00,208.77 L536.50,208.38 L537.00,207.93 L537.50,207.43 L538.00,206.88 L538.50,206.31 L539.00,205.73 L539.50,205.16 L540.00,204.62 L540.50,204.13 L541.00,203.69 L541.50,203.31 L542.00,203.00 L542.50,202.74 L543.00,202.53 L543.50,202.36 L544.00,202.23 L544.50,202.14 L545.00,202.07 L545.50,202.02 L546.00,202.00 L546.50,202.00" fill="none" stroke="#2b4195" stroke-width="1.8"/>
<line x1="37.8" y1="201" x2="37.8" y2="241.7" stroke="#2b4195" stroke-width="1.8"/>
<line x1="547.8" y1="201" x2="547.8" y2="241.7" stroke="#2b4195" stroke-width="1.8"/>
<line x1="546" y1="201.6" x2="570" y2="201.6" stroke="#2b4195" stroke-width="1.5"/>
<line x1="536" y1="211.8" x2="570" y2="211.8" stroke="#2b4195" stroke-width="1.5"/>
<line x1="569.2" y1="188.5" x2="569.2" y2="196" stroke="#2b4195" stroke-width="1.3"/>
<polygon points="567,195 571.4,195 569.2,199.5" fill="#2b4195"/>
<line x1="569.2" y1="223" x2="569.2" y2="216" stroke="#2b4195" stroke-width="1.3"/>
<polygon points="567,217 571.4,217 569.2,212.5" fill="#2b4195"/>
<text x="0" y="0" font-size="11.8" fill="#23388f" stroke="#23388f" stroke-width="0.35" transform="translate(579.8,211.3) rotate(-90)" textLength="9.0" lengthAdjust="spacingAndGlyphs">16</text>
<line x1="111" y1="184" x2="111" y2="200.5" stroke="#2b4195" stroke-width="1.4"/>
<line x1="147.5" y1="184" x2="147.5" y2="200.5" stroke="#2b4195" stroke-width="1.4"/>
<line x1="114" y1="186.2" x2="128" y2="186.2" stroke="#2b4195" stroke-width="1.2"/>
<line x1="131" y1="186.2" x2="144.5" y2="186.2" stroke="#2b4195" stroke-width="1.2"/>
<polygon points="112,186.2 116,184.3 116,188.1" fill="#2b4195"/>
<polygon points="146.5,186.2 142.5,184.3 142.5,188.1" fill="#2b4195"/>
<g fill="#23388f"><text transform="translate(124.80,198.5) scale(0.75,1)" font-size="13" font-weight="normal" textLength="12.54" lengthAdjust="spacing">80</text><text transform="translate(125.10,198.5) scale(0.75,1)" font-size="13" font-weight="normal" textLength="12.54" lengthAdjust="spacing">80</text></g>
<polygon points="41.5,238.3 47.5,235.8 47.5,240.8" fill="#2b4195"/>
<line x1="47" y1="238.3" x2="59" y2="238.3" stroke="#2b4195" stroke-width="1.5" stroke-dasharray="3,1.2"/>
<line x1="59.5" y1="238.3" x2="261.3" y2="238.3" stroke="#2b4195" stroke-width="1.4"/>
<line x1="342.4" y1="238.3" x2="528" y2="238.3" stroke="#2b4195" stroke-width="1.4"/>
<line x1="529" y1="238.3" x2="539" y2="238.3" stroke="#2b4195" stroke-width="1.5" stroke-dasharray="3,1.2"/>
<polygon points="544.5,238.3 538.5,235.8 538.5,240.8" fill="#2b4195"/>
<g fill="#23388f"><text transform="translate(262.70,236.7) scale(0.69,1)" font-size="12.2" font-weight="normal" textLength="115.15" lengthAdjust="spacing">1100 (Largura Total)</text><text transform="translate(262.95,236.7) scale(0.69,1)" font-size="12.2" font-weight="normal" textLength="115.15" lengthAdjust="spacing">1100 (Largura Total)</text></g>
<rect x="21.5" y="258" width="556.8" height="26" rx="5.5" fill="#354e9b" stroke="#243a8e" stroke-width="1"/>
<rect x="27.6" y="317" width="546.4" height="35" fill="#e0e8e7"/>
<rect x="27.6" y="389" width="546.4" height="35.60000000000002" fill="#e0e8e7"/>
<rect x="27.6" y="459" width="546.4" height="35.39999999999998" fill="#e0e8e7"/>
<g fill="#ffffff"><text transform="translate(38.00,278.1) scale(0.68,1)" font-size="24.1" font-weight="bold" textLength="134.57" lengthAdjust="spacing" stroke="#22378c" stroke-width="1.6" stroke-linejoin="round" fill="#22378c">Dimensões</text><text transform="translate(38.40,278.1) scale(0.68,1)" font-size="24.1" font-weight="bold" textLength="134.57" lengthAdjust="spacing" stroke="#22378c" stroke-width="1.6" stroke-linejoin="round" fill="#22378c">Dimensões</text><text transform="translate(38.80,278.1) scale(0.68,1)" font-size="24.1" font-weight="bold" textLength="134.57" lengthAdjust="spacing" stroke="#22378c" stroke-width="1.6" stroke-linejoin="round" fill="#22378c">Dimensões</text><text transform="translate(38.00,278.1) scale(0.68,1)" font-size="24.1" font-weight="bold" textLength="134.57" lengthAdjust="spacing">Dimensões</text><text transform="translate(38.40,278.1) scale(0.68,1)" font-size="24.1" font-weight="bold" textLength="134.57" lengthAdjust="spacing">Dimensões</text><text transform="translate(38.80,278.1) scale(0.68,1)" font-size="24.1" font-weight="bold" textLength="134.57" lengthAdjust="spacing">Dimensões</text></g>
<g fill="#ffffff"><text transform="translate(137.70,277.9) scale(0.62,1)" font-size="23.6" font-weight="bold" textLength="60.81" lengthAdjust="spacing" stroke="#22378c" stroke-width="1.6" stroke-linejoin="round" fill="#22378c">(mm)</text><text transform="translate(138.15,277.9) scale(0.62,1)" font-size="23.6" font-weight="bold" textLength="60.81" lengthAdjust="spacing" stroke="#22378c" stroke-width="1.6" stroke-linejoin="round" fill="#22378c">(mm)</text><text transform="translate(138.60,277.9) scale(0.62,1)" font-size="23.6" font-weight="bold" textLength="60.81" lengthAdjust="spacing" stroke="#22378c" stroke-width="1.6" stroke-linejoin="round" fill="#22378c">(mm)</text><text transform="translate(137.70,277.9) scale(0.62,1)" font-size="23.6" font-weight="bold" textLength="60.81" lengthAdjust="spacing">(mm)</text><text transform="translate(138.15,277.9) scale(0.62,1)" font-size="23.6" font-weight="bold" textLength="60.81" lengthAdjust="spacing">(mm)</text><text transform="translate(138.60,277.9) scale(0.62,1)" font-size="23.6" font-weight="bold" textLength="60.81" lengthAdjust="spacing">(mm)</text></g>
<g fill="#ffffff"><text transform="translate(414.40,277.6) scale(0.95,1)" font-size="22" font-weight="bold" textLength="57.06" lengthAdjust="spacing" stroke="#22378c" stroke-width="1.6" stroke-linejoin="round" fill="#22378c">(mm)</text><text transform="translate(414.80,277.6) scale(0.95,1)" font-size="22" font-weight="bold" textLength="57.06" lengthAdjust="spacing" stroke="#22378c" stroke-width="1.6" stroke-linejoin="round" fill="#22378c">(mm)</text><text transform="translate(414.40,277.6) scale(0.95,1)" font-size="22" font-weight="bold" textLength="57.06" lengthAdjust="spacing">(mm)</text><text transform="translate(414.80,277.6) scale(0.95,1)" font-size="22" font-weight="bold" textLength="57.06" lengthAdjust="spacing">(mm)</text></g>
<g fill="#ffffff"><text transform="translate(515.60,277.6) scale(0.95,1)" font-size="22" font-weight="bold" textLength="57.27" lengthAdjust="spacing" stroke="#22378c" stroke-width="1.6" stroke-linejoin="round" fill="#22378c">(mm)</text><text transform="translate(516.00,277.6) scale(0.95,1)" font-size="22" font-weight="bold" textLength="57.27" lengthAdjust="spacing" stroke="#22378c" stroke-width="1.6" stroke-linejoin="round" fill="#22378c">(mm)</text><text transform="translate(515.60,277.6) scale(0.95,1)" font-size="22" font-weight="bold" textLength="57.27" lengthAdjust="spacing">(mm)</text><text transform="translate(516.00,277.6) scale(0.95,1)" font-size="22" font-weight="bold" textLength="57.27" lengthAdjust="spacing">(mm)</text></g>
<g fill="#23388f"><text transform="translate(37.40,308.9) scale(0.61,1)" font-size="23.2" font-weight="normal" textLength="128.19" lengthAdjust="spacing">Espessura</text><text transform="translate(37.75,308.9) scale(0.61,1)" font-size="23.2" font-weight="normal" textLength="128.19" lengthAdjust="spacing">Espessura</text><text transform="translate(38.10,308.9) scale(0.61,1)" font-size="23.2" font-weight="normal" textLength="128.19" lengthAdjust="spacing">Espessura</text></g>
<g fill="#23388f"><text transform="translate(427.95,306.1) scale(0.8,1)" font-size="23.0" font-weight="bold" text-anchor="middle">0</text><text transform="translate(428.10,306.1) scale(0.8,1)" font-size="23.0" font-weight="bold" text-anchor="middle">0</text><text transform="translate(428.25,306.1) scale(0.8,1)" font-size="23.0" font-weight="bold" text-anchor="middle">0</text><text transform="translate(435.88,306.1) scale(0.8,1)" font-size="23.0" font-weight="bold" text-anchor="middle">,</text><text transform="translate(436.03,306.1) scale(0.8,1)" font-size="23.0" font-weight="bold" text-anchor="middle">,</text><text transform="translate(436.18,306.1) scale(0.8,1)" font-size="23.0" font-weight="bold" text-anchor="middle">,</text><text transform="translate(443.80,306.1) scale(0.8,1)" font-size="23.0" font-weight="bold" text-anchor="middle">4</text><text transform="translate(443.95,306.1) scale(0.8,1)" font-size="23.0" font-weight="bold" text-anchor="middle">4</text><text transform="translate(444.10,306.1) scale(0.8,1)" font-size="23.0" font-weight="bold" text-anchor="middle">4</text><text transform="translate(454.95,306.1) scale(0.8,1)" font-size="23.0" font-weight="bold" text-anchor="middle">3</text><text transform="translate(455.10,306.1) scale(0.8,1)" font-size="23.0" font-weight="bold" text-anchor="middle">3</text><text transform="translate(455.25,306.1) scale(0.8,1)" font-size="23.0" font-weight="bold" text-anchor="middle">3</text></g>
<g fill="#23388f"><text transform="translate(529.05,306.1) scale(0.8,1)" font-size="23.0" font-weight="bold" text-anchor="middle">0</text><text transform="translate(529.20,306.1) scale(0.8,1)" font-size="23.0" font-weight="bold" text-anchor="middle">0</text><text transform="translate(529.35,306.1) scale(0.8,1)" font-size="23.0" font-weight="bold" text-anchor="middle">0</text><text transform="translate(536.98,306.1) scale(0.8,1)" font-size="23.0" font-weight="bold" text-anchor="middle">,</text><text transform="translate(537.12,306.1) scale(0.8,1)" font-size="23.0" font-weight="bold" text-anchor="middle">,</text><text transform="translate(537.27,306.1) scale(0.8,1)" font-size="23.0" font-weight="bold" text-anchor="middle">,</text><text transform="translate(544.90,306.1) scale(0.8,1)" font-size="23.0" font-weight="bold" text-anchor="middle">5</text><text transform="translate(545.05,306.1) scale(0.8,1)" font-size="23.0" font-weight="bold" text-anchor="middle">5</text><text transform="translate(545.20,306.1) scale(0.8,1)" font-size="23.0" font-weight="bold" text-anchor="middle">5</text><text transform="translate(556.05,306.1) scale(0.8,1)" font-size="23.0" font-weight="bold" text-anchor="middle">0</text><text transform="translate(556.20,306.1) scale(0.8,1)" font-size="23.0" font-weight="bold" text-anchor="middle">0</text><text transform="translate(556.35,306.1) scale(0.8,1)" font-size="23.0" font-weight="bold" text-anchor="middle">0</text></g>
<g fill="#23388f"><text transform="translate(37.40,342.8) scale(0.61,1)" font-size="23.2" font-weight="normal" textLength="394.76" lengthAdjust="spacing" stroke="#ffffff" stroke-width="2" stroke-linejoin="round" fill="#ffffff">Peso Técnico (Kg/metro linear)</text><text transform="translate(37.75,342.8) scale(0.61,1)" font-size="23.2" font-weight="normal" textLength="394.76" lengthAdjust="spacing" stroke="#ffffff" stroke-width="2" stroke-linejoin="round" fill="#ffffff">Peso Técnico (Kg/metro linear)</text><text transform="translate(38.10,342.8) scale(0.61,1)" font-size="23.2" font-weight="normal" textLength="394.76" lengthAdjust="spacing" stroke="#ffffff" stroke-width="2" stroke-linejoin="round" fill="#ffffff">Peso Técnico (Kg/metro linear)</text><text transform="translate(37.40,342.8) scale(0.61,1)" font-size="23.2" font-weight="normal" textLength="394.76" lengthAdjust="spacing">Peso Técnico (Kg/metro linear)</text><text transform="translate(37.75,342.8) scale(0.61,1)" font-size="23.2" font-weight="normal" textLength="394.76" lengthAdjust="spacing">Peso Técnico (Kg/metro linear)</text><text transform="translate(38.10,342.8) scale(0.61,1)" font-size="23.2" font-weight="normal" textLength="394.76" lengthAdjust="spacing">Peso Técnico (Kg/metro linear)</text></g>
<g fill="#23388f"><text transform="translate(428.10,342.6) scale(0.8,1)" font-size="23.0" font-weight="bold" text-anchor="middle" stroke="#ffffff" stroke-width="2.3" stroke-linejoin="round" fill="#ffffff">3</text><text transform="translate(436.03,342.6) scale(0.8,1)" font-size="23.0" font-weight="bold" text-anchor="middle" stroke="#ffffff" stroke-width="2.3" stroke-linejoin="round" fill="#ffffff">,</text><text transform="translate(443.95,342.6) scale(0.8,1)" font-size="23.0" font-weight="bold" text-anchor="middle" stroke="#ffffff" stroke-width="2.3" stroke-linejoin="round" fill="#ffffff">8</text><text transform="translate(455.10,342.6) scale(0.8,1)" font-size="23.0" font-weight="bold" text-anchor="middle" stroke="#ffffff" stroke-width="2.3" stroke-linejoin="round" fill="#ffffff">6</text><text transform="translate(427.95,342.6) scale(0.8,1)" font-size="23.0" font-weight="bold" text-anchor="middle">3</text><text transform="translate(428.10,342.6) scale(0.8,1)" font-size="23.0" font-weight="bold" text-anchor="middle">3</text><text transform="translate(428.25,342.6) scale(0.8,1)" font-size="23.0" font-weight="bold" text-anchor="middle">3</text><text transform="translate(435.88,342.6) scale(0.8,1)" font-size="23.0" font-weight="bold" text-anchor="middle">,</text><text transform="translate(436.03,342.6) scale(0.8,1)" font-size="23.0" font-weight="bold" text-anchor="middle">,</text><text transform="translate(436.18,342.6) scale(0.8,1)" font-size="23.0" font-weight="bold" text-anchor="middle">,</text><text transform="translate(443.80,342.6) scale(0.8,1)" font-size="23.0" font-weight="bold" text-anchor="middle">8</text><text transform="translate(443.95,342.6) scale(0.8,1)" font-size="23.0" font-weight="bold" text-anchor="middle">8</text><text transform="translate(444.10,342.6) scale(0.8,1)" font-size="23.0" font-weight="bold" text-anchor="middle">8</text><text transform="translate(454.95,342.6) scale(0.8,1)" font-size="23.0" font-weight="bold" text-anchor="middle">6</text><text transform="translate(455.10,342.6) scale(0.8,1)" font-size="23.0" font-weight="bold" text-anchor="middle">6</text><text transform="translate(455.25,342.6) scale(0.8,1)" font-size="23.0" font-weight="bold" text-anchor="middle">6</text></g>
<g fill="#23388f"><text transform="translate(529.20,342.6) scale(0.8,1)" font-size="23.0" font-weight="bold" text-anchor="middle" stroke="#ffffff" stroke-width="2.3" stroke-linejoin="round" fill="#ffffff">4</text><text transform="translate(537.12,342.6) scale(0.8,1)" font-size="23.0" font-weight="bold" text-anchor="middle" stroke="#ffffff" stroke-width="2.3" stroke-linejoin="round" fill="#ffffff">,</text><text transform="translate(545.05,342.6) scale(0.8,1)" font-size="23.0" font-weight="bold" text-anchor="middle" stroke="#ffffff" stroke-width="2.3" stroke-linejoin="round" fill="#ffffff">4</text><text transform="translate(556.20,342.6) scale(0.8,1)" font-size="23.0" font-weight="bold" text-anchor="middle" stroke="#ffffff" stroke-width="2.3" stroke-linejoin="round" fill="#ffffff">9</text><text transform="translate(529.05,342.6) scale(0.8,1)" font-size="23.0" font-weight="bold" text-anchor="middle">4</text><text transform="translate(529.20,342.6) scale(0.8,1)" font-size="23.0" font-weight="bold" text-anchor="middle">4</text><text transform="translate(529.35,342.6) scale(0.8,1)" font-size="23.0" font-weight="bold" text-anchor="middle">4</text><text transform="translate(536.98,342.6) scale(0.8,1)" font-size="23.0" font-weight="bold" text-anchor="middle">,</text><text transform="translate(537.12,342.6) scale(0.8,1)" font-size="23.0" font-weight="bold" text-anchor="middle">,</text><text transform="translate(537.27,342.6) scale(0.8,1)" font-size="23.0" font-weight="bold" text-anchor="middle">,</text><text transform="translate(544.90,342.6) scale(0.8,1)" font-size="23.0" font-weight="bold" text-anchor="middle">4</text><text transform="translate(545.05,342.6) scale(0.8,1)" font-size="23.0" font-weight="bold" text-anchor="middle">4</text><text transform="translate(545.20,342.6) scale(0.8,1)" font-size="23.0" font-weight="bold" text-anchor="middle">4</text><text transform="translate(556.05,342.6) scale(0.8,1)" font-size="23.0" font-weight="bold" text-anchor="middle">9</text><text transform="translate(556.20,342.6) scale(0.8,1)" font-size="23.0" font-weight="bold" text-anchor="middle">9</text><text transform="translate(556.35,342.6) scale(0.8,1)" font-size="23.0" font-weight="bold" text-anchor="middle">9</text></g>
<g fill="#23388f"><text transform="translate(37.40,378.4) scale(0.61,1)" font-size="23.2" font-weight="normal" textLength="91.60" lengthAdjust="spacing">Largura</text><text transform="translate(37.75,378.4) scale(0.61,1)" font-size="23.2" font-weight="normal" textLength="91.60" lengthAdjust="spacing">Largura</text><text transform="translate(38.10,378.4) scale(0.61,1)" font-size="23.2" font-weight="normal" textLength="91.60" lengthAdjust="spacing">Largura</text></g>
<g fill="#23388f"><polygon points="426.43,363.00 426.43,379.00 423.32,379.00 423.32,366.50 420.82,367.80 420.82,365.30 424.23,363.00"/><polygon points="437.57,363.00 437.57,379.00 434.47,379.00 434.47,366.50 431.97,367.80 431.97,365.30 435.38,363.00"/><text transform="translate(447.02,379.0) scale(0.8,1)" font-size="23.0" font-weight="bold" text-anchor="middle">0</text><text transform="translate(447.17,379.0) scale(0.8,1)" font-size="23.0" font-weight="bold" text-anchor="middle">0</text><text transform="translate(447.32,379.0) scale(0.8,1)" font-size="23.0" font-weight="bold" text-anchor="middle">0</text><text transform="translate(458.17,379.0) scale(0.8,1)" font-size="23.0" font-weight="bold" text-anchor="middle">0</text><text transform="translate(458.32,379.0) scale(0.8,1)" font-size="23.0" font-weight="bold" text-anchor="middle">0</text><text transform="translate(458.47,379.0) scale(0.8,1)" font-size="23.0" font-weight="bold" text-anchor="middle">0</text></g>
<g fill="#23388f"><polygon points="527.53,363.00 527.53,379.00 524.43,379.00 524.43,366.50 521.93,367.80 521.93,365.30 525.33,363.00"/><polygon points="538.68,363.00 538.68,379.00 535.58,379.00 535.58,366.50 533.08,367.80 533.08,365.30 536.48,363.00"/><text transform="translate(548.13,379.0) scale(0.8,1)" font-size="23.0" font-weight="bold" text-anchor="middle">0</text><text transform="translate(548.28,379.0) scale(0.8,1)" font-size="23.0" font-weight="bold" text-anchor="middle">0</text><text transform="translate(548.43,379.0) scale(0.8,1)" font-size="23.0" font-weight="bold" text-anchor="middle">0</text><text transform="translate(559.28,379.0) scale(0.8,1)" font-size="23.0" font-weight="bold" text-anchor="middle">0</text><text transform="translate(559.43,379.0) scale(0.8,1)" font-size="23.0" font-weight="bold" text-anchor="middle">0</text><text transform="translate(559.58,379.0) scale(0.8,1)" font-size="23.0" font-weight="bold" text-anchor="middle">0</text></g>
<g fill="#23388f"><text transform="translate(37.40,412.9) scale(0.61,1)" font-size="23.2" font-weight="normal" textLength="301.80" lengthAdjust="spacing" stroke="#ffffff" stroke-width="2" stroke-linejoin="round" fill="#ffffff">Espaço entre as Terças</text><text transform="translate(37.75,412.9) scale(0.61,1)" font-size="23.2" font-weight="normal" textLength="301.80" lengthAdjust="spacing" stroke="#ffffff" stroke-width="2" stroke-linejoin="round" fill="#ffffff">Espaço entre as Terças</text><text transform="translate(38.10,412.9) scale(0.61,1)" font-size="23.2" font-weight="normal" textLength="301.80" lengthAdjust="spacing" stroke="#ffffff" stroke-width="2" stroke-linejoin="round" fill="#ffffff">Espaço entre as Terças</text><text transform="translate(37.40,412.9) scale(0.61,1)" font-size="23.2" font-weight="normal" textLength="301.80" lengthAdjust="spacing">Espaço entre as Terças</text><text transform="translate(37.75,412.9) scale(0.61,1)" font-size="23.2" font-weight="normal" textLength="301.80" lengthAdjust="spacing">Espaço entre as Terças</text><text transform="translate(38.10,412.9) scale(0.61,1)" font-size="23.2" font-weight="normal" textLength="301.80" lengthAdjust="spacing">Espaço entre as Terças</text></g>
<g fill="#23388f"><polygon stroke="#ffffff" stroke-width="2" stroke-linejoin="round" fill="#ffffff" points="426.43,399.10 426.43,415.10 423.32,415.10 423.32,402.60 420.82,403.90 420.82,401.40 424.23,399.10"/><text transform="translate(436.02,415.1) scale(0.8,1)" font-size="23.0" font-weight="bold" text-anchor="middle" stroke="#ffffff" stroke-width="2.3" stroke-linejoin="round" fill="#ffffff">3</text><text transform="translate(447.17,415.1) scale(0.8,1)" font-size="23.0" font-weight="bold" text-anchor="middle" stroke="#ffffff" stroke-width="2.3" stroke-linejoin="round" fill="#ffffff">0</text><text transform="translate(458.32,415.1) scale(0.8,1)" font-size="23.0" font-weight="bold" text-anchor="middle" stroke="#ffffff" stroke-width="2.3" stroke-linejoin="round" fill="#ffffff">0</text><polygon points="426.43,399.10 426.43,415.10 423.32,415.10 423.32,402.60 420.82,403.90 420.82,401.40 424.23,399.10"/><text transform="translate(435.88,415.1) scale(0.8,1)" font-size="23.0" font-weight="bold" text-anchor="middle">3</text><text transform="translate(436.02,415.1) scale(0.8,1)" font-size="23.0" font-weight="bold" text-anchor="middle">3</text><text transform="translate(436.17,415.1) scale(0.8,1)" font-size="23.0" font-weight="bold" text-anchor="middle">3</text><text transform="translate(447.02,415.1) scale(0.8,1)" font-size="23.0" font-weight="bold" text-anchor="middle">0</text><text transform="translate(447.17,415.1) scale(0.8,1)" font-size="23.0" font-weight="bold" text-anchor="middle">0</text><text transform="translate(447.32,415.1) scale(0.8,1)" font-size="23.0" font-weight="bold" text-anchor="middle">0</text><text transform="translate(458.17,415.1) scale(0.8,1)" font-size="23.0" font-weight="bold" text-anchor="middle">0</text><text transform="translate(458.32,415.1) scale(0.8,1)" font-size="23.0" font-weight="bold" text-anchor="middle">0</text><text transform="translate(458.47,415.1) scale(0.8,1)" font-size="23.0" font-weight="bold" text-anchor="middle">0</text></g>
<g fill="#23388f"><polygon stroke="#ffffff" stroke-width="2" stroke-linejoin="round" fill="#ffffff" points="527.53,399.10 527.53,415.10 524.43,415.10 524.43,402.60 521.93,403.90 521.93,401.40 525.33,399.10"/><text transform="translate(537.13,415.1) scale(0.8,1)" font-size="23.0" font-weight="bold" text-anchor="middle" stroke="#ffffff" stroke-width="2.3" stroke-linejoin="round" fill="#ffffff">5</text><text transform="translate(548.28,415.1) scale(0.8,1)" font-size="23.0" font-weight="bold" text-anchor="middle" stroke="#ffffff" stroke-width="2.3" stroke-linejoin="round" fill="#ffffff">0</text><text transform="translate(559.43,415.1) scale(0.8,1)" font-size="23.0" font-weight="bold" text-anchor="middle" stroke="#ffffff" stroke-width="2.3" stroke-linejoin="round" fill="#ffffff">0</text><polygon points="527.53,399.10 527.53,415.10 524.43,415.10 524.43,402.60 521.93,403.90 521.93,401.40 525.33,399.10"/><text transform="translate(536.98,415.1) scale(0.8,1)" font-size="23.0" font-weight="bold" text-anchor="middle">5</text><text transform="translate(537.13,415.1) scale(0.8,1)" font-size="23.0" font-weight="bold" text-anchor="middle">5</text><text transform="translate(537.28,415.1) scale(0.8,1)" font-size="23.0" font-weight="bold" text-anchor="middle">5</text><text transform="translate(548.13,415.1) scale(0.8,1)" font-size="23.0" font-weight="bold" text-anchor="middle">0</text><text transform="translate(548.28,415.1) scale(0.8,1)" font-size="23.0" font-weight="bold" text-anchor="middle">0</text><text transform="translate(548.43,415.1) scale(0.8,1)" font-size="23.0" font-weight="bold" text-anchor="middle">0</text><text transform="translate(559.28,415.1) scale(0.8,1)" font-size="23.0" font-weight="bold" text-anchor="middle">0</text><text transform="translate(559.43,415.1) scale(0.8,1)" font-size="23.0" font-weight="bold" text-anchor="middle">0</text><text transform="translate(559.58,415.1) scale(0.8,1)" font-size="23.0" font-weight="bold" text-anchor="middle">0</text></g>
<g fill="#23388f"><text transform="translate(37.40,450.6) scale(0.61,1)" font-size="23.2" font-weight="normal" textLength="418.19" lengthAdjust="spacing">Largura Útil Transpasse Simples</text><text transform="translate(37.75,450.6) scale(0.61,1)" font-size="23.2" font-weight="normal" textLength="418.19" lengthAdjust="spacing">Largura Útil Transpasse Simples</text><text transform="translate(38.10,450.6) scale(0.61,1)" font-size="23.2" font-weight="normal" textLength="418.19" lengthAdjust="spacing">Largura Útil Transpasse Simples</text></g>
<g fill="#23388f"><polygon points="426.43,435.50 426.43,451.50 423.32,451.50 423.32,439.00 420.82,440.30 420.82,437.80 424.23,435.50"/><text transform="translate(435.88,451.5) scale(0.8,1)" font-size="23.0" font-weight="bold" text-anchor="middle">0</text><text transform="translate(436.02,451.5) scale(0.8,1)" font-size="23.0" font-weight="bold" text-anchor="middle">0</text><text transform="translate(436.17,451.5) scale(0.8,1)" font-size="23.0" font-weight="bold" text-anchor="middle">0</text><text transform="translate(447.02,451.5) scale(0.8,1)" font-size="23.0" font-weight="bold" text-anchor="middle">0</text><text transform="translate(447.17,451.5) scale(0.8,1)" font-size="23.0" font-weight="bold" text-anchor="middle">0</text><text transform="translate(447.32,451.5) scale(0.8,1)" font-size="23.0" font-weight="bold" text-anchor="middle">0</text><text transform="translate(458.17,451.5) scale(0.8,1)" font-size="23.0" font-weight="bold" text-anchor="middle">0</text><text transform="translate(458.32,451.5) scale(0.8,1)" font-size="23.0" font-weight="bold" text-anchor="middle">0</text><text transform="translate(458.47,451.5) scale(0.8,1)" font-size="23.0" font-weight="bold" text-anchor="middle">0</text></g>
<g fill="#23388f"><polygon points="527.53,435.50 527.53,451.50 524.43,451.50 524.43,439.00 521.93,440.30 521.93,437.80 525.33,435.50"/><text transform="translate(536.98,451.5) scale(0.8,1)" font-size="23.0" font-weight="bold" text-anchor="middle">0</text><text transform="translate(537.13,451.5) scale(0.8,1)" font-size="23.0" font-weight="bold" text-anchor="middle">0</text><text transform="translate(537.28,451.5) scale(0.8,1)" font-size="23.0" font-weight="bold" text-anchor="middle">0</text><text transform="translate(548.13,451.5) scale(0.8,1)" font-size="23.0" font-weight="bold" text-anchor="middle">0</text><text transform="translate(548.28,451.5) scale(0.8,1)" font-size="23.0" font-weight="bold" text-anchor="middle">0</text><text transform="translate(548.43,451.5) scale(0.8,1)" font-size="23.0" font-weight="bold" text-anchor="middle">0</text><text transform="translate(559.28,451.5) scale(0.8,1)" font-size="23.0" font-weight="bold" text-anchor="middle">0</text><text transform="translate(559.43,451.5) scale(0.8,1)" font-size="23.0" font-weight="bold" text-anchor="middle">0</text><text transform="translate(559.58,451.5) scale(0.8,1)" font-size="23.0" font-weight="bold" text-anchor="middle">0</text></g>
<g fill="#23388f"><text transform="translate(37.40,484.6) scale(0.61,1)" font-size="23.2" font-weight="normal" textLength="390.65" lengthAdjust="spacing" stroke="#ffffff" stroke-width="2" stroke-linejoin="round" fill="#ffffff">Largura Útil Transpasse Duplo</text><text transform="translate(37.75,484.6) scale(0.61,1)" font-size="23.2" font-weight="normal" textLength="390.65" lengthAdjust="spacing" stroke="#ffffff" stroke-width="2" stroke-linejoin="round" fill="#ffffff">Largura Útil Transpasse Duplo</text><text transform="translate(38.10,484.6) scale(0.61,1)" font-size="23.2" font-weight="normal" textLength="390.65" lengthAdjust="spacing" stroke="#ffffff" stroke-width="2" stroke-linejoin="round" fill="#ffffff">Largura Útil Transpasse Duplo</text><text transform="translate(37.40,484.6) scale(0.61,1)" font-size="23.2" font-weight="normal" textLength="390.65" lengthAdjust="spacing">Largura Útil Transpasse Duplo</text><text transform="translate(37.75,484.6) scale(0.61,1)" font-size="23.2" font-weight="normal" textLength="390.65" lengthAdjust="spacing">Largura Útil Transpasse Duplo</text><text transform="translate(38.10,484.6) scale(0.61,1)" font-size="23.2" font-weight="normal" textLength="390.65" lengthAdjust="spacing">Largura Útil Transpasse Duplo</text></g>
<g fill="#23388f"><text transform="translate(430.45,487.9) scale(0.8,1)" font-size="23.0" font-weight="bold" text-anchor="middle" stroke="#ffffff" stroke-width="2.3" stroke-linejoin="round" fill="#ffffff">9</text><text transform="translate(441.60,487.9) scale(0.8,1)" font-size="23.0" font-weight="bold" text-anchor="middle" stroke="#ffffff" stroke-width="2.3" stroke-linejoin="round" fill="#ffffff">3</text><text transform="translate(452.75,487.9) scale(0.8,1)" font-size="23.0" font-weight="bold" text-anchor="middle" stroke="#ffffff" stroke-width="2.3" stroke-linejoin="round" fill="#ffffff">5</text><text transform="translate(430.30,487.9) scale(0.8,1)" font-size="23.0" font-weight="bold" text-anchor="middle">9</text><text transform="translate(430.45,487.9) scale(0.8,1)" font-size="23.0" font-weight="bold" text-anchor="middle">9</text><text transform="translate(430.60,487.9) scale(0.8,1)" font-size="23.0" font-weight="bold" text-anchor="middle">9</text><text transform="translate(441.45,487.9) scale(0.8,1)" font-size="23.0" font-weight="bold" text-anchor="middle">3</text><text transform="translate(441.60,487.9) scale(0.8,1)" font-size="23.0" font-weight="bold" text-anchor="middle">3</text><text transform="translate(441.75,487.9) scale(0.8,1)" font-size="23.0" font-weight="bold" text-anchor="middle">3</text><text transform="translate(452.60,487.9) scale(0.8,1)" font-size="23.0" font-weight="bold" text-anchor="middle">5</text><text transform="translate(452.75,487.9) scale(0.8,1)" font-size="23.0" font-weight="bold" text-anchor="middle">5</text><text transform="translate(452.90,487.9) scale(0.8,1)" font-size="23.0" font-weight="bold" text-anchor="middle">5</text></g>
<g fill="#23388f"><text transform="translate(531.55,487.9) scale(0.8,1)" font-size="23.0" font-weight="bold" text-anchor="middle" stroke="#ffffff" stroke-width="2.3" stroke-linejoin="round" fill="#ffffff">9</text><text transform="translate(542.70,487.9) scale(0.8,1)" font-size="23.0" font-weight="bold" text-anchor="middle" stroke="#ffffff" stroke-width="2.3" stroke-linejoin="round" fill="#ffffff">3</text><text transform="translate(553.85,487.9) scale(0.8,1)" font-size="23.0" font-weight="bold" text-anchor="middle" stroke="#ffffff" stroke-width="2.3" stroke-linejoin="round" fill="#ffffff">5</text><text transform="translate(531.40,487.9) scale(0.8,1)" font-size="23.0" font-weight="bold" text-anchor="middle">9</text><text transform="translate(531.55,487.9) scale(0.8,1)" font-size="23.0" font-weight="bold" text-anchor="middle">9</text><text transform="translate(531.70,487.9) scale(0.8,1)" font-size="23.0" font-weight="bold" text-anchor="middle">9</text><text transform="translate(542.55,487.9) scale(0.8,1)" font-size="23.0" font-weight="bold" text-anchor="middle">3</text><text transform="translate(542.70,487.9) scale(0.8,1)" font-size="23.0" font-weight="bold" text-anchor="middle">3</text><text transform="translate(542.85,487.9) scale(0.8,1)" font-size="23.0" font-weight="bold" text-anchor="middle">3</text><text transform="translate(553.70,487.9) scale(0.8,1)" font-size="23.0" font-weight="bold" text-anchor="middle">5</text><text transform="translate(553.85,487.9) scale(0.8,1)" font-size="23.0" font-weight="bold" text-anchor="middle">5</text><text transform="translate(554.00,487.9) scale(0.8,1)" font-size="23.0" font-weight="bold" text-anchor="middle">5</text></g>
<g fill="#23388f"><text transform="translate(35.20,504.5) scale(1.0,1)" font-size="13" font-weight="normal" textLength="5.30" lengthAdjust="spacing">*</text><text transform="translate(35.50,504.5) scale(1.0,1)" font-size="13" font-weight="normal" textLength="5.30" lengthAdjust="spacing">*</text></g>
<g fill="#23388f"><text transform="translate(46.70,507.7) scale(0.66,1)" font-size="16.8" font-weight="normal" textLength="407.73" lengthAdjust="spacing">Dados referente ao material galvalume/aluzinco.</text><text transform="translate(47.10,507.7) scale(0.66,1)" font-size="16.8" font-weight="normal" textLength="407.73" lengthAdjust="spacing">Dados referente ao material galvalume/aluzinco.</text></g>
<rect x="0" y="0" width="4.3" height="4.3" fill="#b0b0b0"/><rect x="0" y="7.4" width="2" height="2.2" fill="#111"/><rect x="8.4" y="0" width="1.3" height="1.2" fill="#666"/>
<rect x="595.5" y="0" width="4.5" height="4.3" fill="#b0b0b0"/><rect x="598" y="6.9" width="2" height="2" fill="#111"/><rect x="591" y="0" width="1.2" height="1.3" fill="#666"/>
<rect x="0" y="502.2" width="2" height="2" fill="#111"/><rect x="0" y="506.3" width="4.4" height="4.7" fill="#a8a8a8"/><rect x="7.8" y="509.3" width="1.2" height="1.7" fill="#666"/>
<rect x="598.2" y="502.2" width="1.8" height="2" fill="#111"/><rect x="595.4" y="506.3" width="4.6" height="4.7" fill="#a8a8a8"/><rect x="591" y="509.3" width="1.2" height="1.7" fill="#666"/>
</g>
</svg>
</body></html>
